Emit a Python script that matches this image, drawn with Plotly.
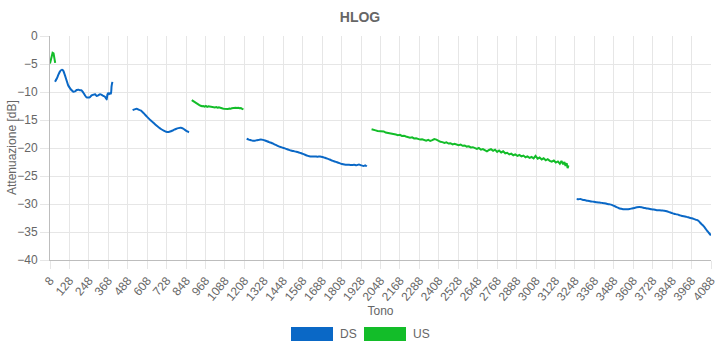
import plotly.graph_objects as go

# ---------------- data ----------------
tick_labels = list(range(8, 4089, 120))

ds1_tones = [39, 50, 60, 70, 80, 90, 100, 110, 120, 131, 142, 152, 162, 173, 185, 195, 203, 213, 224, 234,
             244, 255, 265, 275, 286, 296, 306, 317, 327, 337, 347, 353, 358, 362, 366, 372, 378, 384, 388, 393]
ds1_vals = [-8.15, -7.6, -6.9, -6.3, -6.05, -6.2, -7.0, -7.9, -8.8, -9.3, -9.7, -9.95, -9.9, -9.65, -9.6, -9.7,
            -9.7, -10.1, -10.6, -10.95, -11.0, -10.9, -10.6, -10.5, -10.4, -10.7, -10.6, -10.4, -10.5, -10.7,
            -10.85, -11.1, -11.35, -10.5, -10.2, -10.4, -10.2, -10.3, -9.0, -8.2]

ds2_tones = [518, 530, 543, 555, 567, 580, 593, 606, 620, 635, 650, 665, 680, 695, 710, 725, 740, 755, 770,
             785, 800, 815, 830, 845, 856, 866]
ds2_vals = [-13.25, -13.1, -13.0, -13.15, -13.3, -13.6, -14.0, -14.4, -14.8, -15.2, -15.6, -16.0, -16.35,
            -16.65, -16.9, -17.1, -17.15, -17.0, -16.8, -16.6, -16.45, -16.4, -16.55, -16.85, -17.05, -17.2]

ds3_tones = [1222, 1235, 1248, 1260, 1273, 1285, 1298, 1310, 1322, 1335, 1348, 1360, 1376, 1390, 1405, 1420,
             1435, 1450, 1465, 1480, 1495, 1510, 1525, 1540, 1555, 1570, 1585, 1600, 1615, 1630, 1645, 1660,
             1675, 1690, 1705, 1720, 1735, 1750, 1765, 1780, 1795, 1810, 1825, 1840, 1855, 1870, 1885, 1900,
             1915, 1930, 1945, 1955, 1963]
ds3_vals = [-18.35, -18.5, -18.6, -18.7, -18.7, -18.6, -18.55, -18.5, -18.55, -18.65, -18.8, -18.95, -19.1,
            -19.3, -19.5, -19.7, -19.85, -20.0, -20.15, -20.3, -20.45, -20.55, -20.65, -20.75, -20.9, -21.05,
            -21.25, -21.4, -21.5, -21.5, -21.5, -21.55, -21.5, -21.6, -21.75, -21.9, -22.05, -22.25, -22.4,
            -22.55, -22.7, -22.85, -22.95, -23.0, -23.0, -23.05, -23.0, -23.1, -22.95, -23.1, -23.2, -23.1, -23.3]

ds4_tones = [3259, 3270, 3282, 3294, 3306, 3321, 3335, 3350, 3365, 3382, 3398, 3414, 3430, 3444, 3460, 3475,
             3490, 3505, 3520, 3535, 3550, 3568, 3585, 3600, 3615, 3630, 3645, 3660, 3675, 3691, 3705, 3720,
             3735, 3753, 3770, 3785, 3800, 3815, 3830, 3845, 3860, 3876, 3890, 3905, 3920, 3938, 3955, 3970,
             3985, 4000, 4010, 4020, 4030, 4041, 4052, 4062, 4072, 4082, 4088]
ds4_vals = [-29.1, -29.15, -29.1, -29.25, -29.3, -29.4, -29.45, -29.55, -29.6, -29.7, -29.75, -29.8, -29.85,
            -29.95, -30.05, -30.15, -30.35, -30.55, -30.75, -30.85, -30.95, -30.95, -30.9, -30.8, -30.7, -30.6,
            -30.55, -30.6, -30.7, -30.8, -30.85, -30.95, -31.0, -31.1, -31.1, -31.15, -31.2, -31.3, -31.45,
            -31.6, -31.75, -31.85, -31.95, -32.1, -32.2, -32.3, -32.45, -32.55, -32.7, -32.85, -33.0, -33.3,
            -33.6, -33.9, -34.3, -34.7, -35.05, -35.4, -35.6]

us1_tones = [8, 13, 18, 24, 30, 35, 40]
us1_vals = [-4.9, -4.3, -3.4, -3.0, -3.1, -3.9, -4.8]

us2_tones = [883, 890, 898, 906, 914, 922, 930, 938, 946, 954, 962, 970, 978, 986, 994, 1002, 1010, 1018,
             1026, 1034, 1042, 1050, 1058, 1066, 1074, 1082, 1090, 1098, 1106, 1114, 1122, 1130, 1138, 1146,
             1154, 1162, 1170, 1178, 1186, 1194, 1202]
us2_vals = [-11.45, -11.6, -11.8, -11.9, -12.05, -12.2, -12.35, -12.45, -12.55, -12.5, -12.6, -12.5, -12.65,
            -12.55, -12.6, -12.7, -12.65, -12.7, -12.75, -12.7, -12.8, -12.75, -12.85, -12.9, -12.95, -13.0,
            -13.05, -13.1, -13.05, -12.95, -13.0, -12.9, -12.85, -12.9, -12.8, -12.85, -12.8, -12.9, -12.85,
            -13.0, -13.1]

us3_tones = [1993, 2005, 2018, 2030, 2043, 2055, 2068, 2080, 2093, 2105, 2118, 2130, 2143, 2155, 2168, 2180,
             2193, 2205, 2218, 2230, 2243, 2255, 2268, 2280, 2293, 2305, 2318, 2330, 2343, 2355, 2368, 2380,
             2393, 2405, 2418, 2430, 2443, 2455, 2468, 2480, 2493, 2505, 2518, 2530, 2543, 2555, 2568, 2580,
             2593, 2605, 2618, 2630, 2643, 2655, 2668, 2680, 2693, 2705, 2718, 2730, 2743, 2755, 2768, 2780,
             2793, 2805, 2818, 2830, 2843, 2855, 2868, 2880, 2893, 2905, 2918, 2930, 2943, 2955, 2968, 2980,
             2993, 3005, 3018, 3030, 3043, 3055, 3068, 3080, 3093, 3105, 3118, 3130, 3143, 3155, 3165, 3175,
             3183, 3190, 3197, 3203, 3208]
us3_vals = [-16.65, -16.8, -16.85, -16.95, -17.0, -17.1, -17.05, -17.25, -17.3, -17.45, -17.4, -17.55, -17.6,
            -17.7, -17.65, -17.85, -17.8, -17.95, -18.05, -18.15, -18.1, -18.3, -18.25, -18.4, -18.5, -18.45,
            -18.6, -18.7, -18.55, -18.75, -18.6, -18.4, -18.5, -18.75, -18.9, -18.95, -19.1, -19.0, -19.2,
            -19.15, -19.35, -19.25, -19.45, -19.5, -19.4, -19.6, -19.55, -19.75, -19.7, -19.9, -19.85, -20.05,
            -20.15, -20.0, -20.3, -20.2, -20.45, -20.6, -20.35, -20.2, -20.5, -20.3, -20.7, -20.45, -20.8,
            -20.6, -20.95, -20.85, -21.15, -21.0, -21.3, -21.15, -21.4, -21.25, -21.5, -21.35, -21.65, -21.5,
            -21.75, -21.6, -21.85, -21.4, -21.9, -21.7, -22.05, -21.85, -22.2, -22.0, -22.3, -22.45, -22.25,
            -22.6, -22.4, -22.8, -22.3, -22.9, -22.5, -23.2, -22.7, -23.6, -23.1]

ds_segments = [(ds1_tones, ds1_vals), (ds2_tones, ds2_vals), (ds3_tones, ds3_vals), (ds4_tones, ds4_vals)]
us_segments = [(us1_tones, us1_vals), (us2_tones, us2_vals), (us3_tones, us3_vals)]


def join(segments):
    xs, ys = [], []
    for t, v in segments:
        xs += list(t) + [None]
        ys += list(v) + [None]
    return xs, ys


DS_COLOR = "#0a68c6"
US_COLOR = "#13bd29"
TXT = "#666666"
FONT = "Liberation Sans, Arial, sans-serif"

fig = go.Figure()
dx, dy = join(ds_segments)
ux, uy = join(us_segments)
fig.add_trace(go.Scatter(x=dx, y=dy, mode="lines", name="DS", connectgaps=False,
                         line=dict(color=DS_COLOR, width=2, shape="spline", smoothing=0.6), showlegend=False))
fig.add_trace(go.Scatter(x=ux, y=uy, mode="lines", name="US", connectgaps=False,
                         line=dict(color=US_COLOR, width=2), showlegend=False))

W, H = 720, 350
L, R, T, B = 50, 9, 36, 90
pw, ph = W - L - R, H - T - B


def to_px(xp):
    return (xp - L) / pw


def to_py(yp):
    return (H - B - yp) / ph


fig.update_layout(
    template="none",
    width=W, height=H,
    margin=dict(l=L, r=R, t=T, b=B, autoexpand=False),
    paper_bgcolor="white", plot_bgcolor="white",
    font=dict(family=FONT, size=12, color=TXT),
    title=dict(text="<b>HLOG</b>", x=0.5, xanchor="center", y=1 - 17 / H, yanchor="middle",
               font=dict(size=14, color=TXT, family=FONT)),
    showlegend=False,
)
fig.update_xaxes(
    range=[8, 4088], tickmode="array", tickvals=tick_labels, ticktext=[str(v) for v in tick_labels],
    tickangle=-50, showgrid=True, gridcolor="#e6e6e6", gridwidth=1,
    ticks="outside", ticklen=8, tickcolor="#e6e6e6",
    showline=True, linecolor="#bdbdbd", linewidth=1, zeroline=False, automargin=False,
    tickfont=dict(size=12, color=TXT),
    title=dict(text="Tono", font=dict(size=12, color=TXT), standoff=0),
)
fig.update_yaxes(
    range=[-40, 0], tickmode="array", tickvals=list(range(-40, 1, 5)),
    showgrid=True, gridcolor="#e6e6e6", gridwidth=1,
    ticks="outside", ticklen=9, tickcolor="#e6e6e6",
    showline=True, linecolor="#bdbdbd", linewidth=1, zeroline=False, automargin=False,
    tickfont=dict(size=12, color=TXT),
)

# y axis title
fig.add_annotation(text="Attenuazione [dB]", xref="paper", yref="paper", x=to_px(12), y=0.5,
                   textangle=-90, showarrow=False, xanchor="center", yanchor="middle",
                   font=dict(size=12, color=TXT))

# legend (drawn as boxes)
for x0, x1, tx, label, col in [(291, 333, 338, "DS", DS_COLOR), (364, 406, 411, "US", US_COLOR)]:
    fig.add_shape(type="rect", xref="paper", yref="paper", x0=to_px(x0), x1=to_px(x1), y0=to_py(341),
                  y1=to_py(327), fillcolor=col, line=dict(width=0))
    fig.add_annotation(text=label, xref="paper", yref="paper", x=to_px(tx), y=to_py(334), showarrow=False,
                       xanchor="left", yanchor="middle", font=dict(size=12, color=TXT))

fig.write_html("out.html")
